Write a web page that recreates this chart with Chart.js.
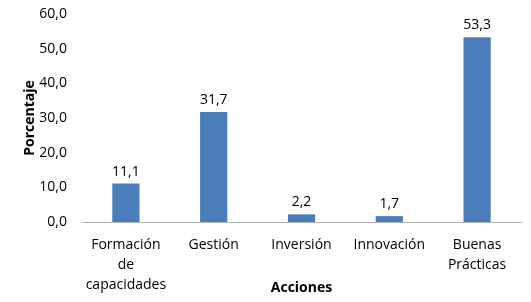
<!DOCTYPE html>
<html>
<head>
<meta charset="utf-8">
<script src="https://cdn.jsdelivr.net/npm/chart.js@4"></script>
<style>
  html, body { margin: 0; padding: 0; background: #fff; }
  #wrap { width: 531px; height: 302px; }
</style>
</head>
<body>
<div id="wrap"><canvas id="accionesChart"></canvas></div>
<script>
// datos
var categorias = [["Formación", "de", "capacidades"], "Gestión", "Inversión", "Innovación", ["Buenas", "Prácticas"]];
var porcentajes = [11.1, 31.7, 2.2, 1.7, 53.3];
var ticksY = [0, 10, 20, 30, 40, 50, 60];

var fmt = function (v) { return Number(v).toFixed(1).replace(".", ","); };
var fuente = "'Open Sans', sans-serif";

// etiquetas encima de cada barra
var etiquetas = {
  id: "etiquetas",
  afterDatasetsDraw: function (chart) {
    var ctx = chart.ctx;
    var meta = chart.getDatasetMeta(0);
    ctx.save();
    ctx.font = "14px " + fuente;
    ctx.fillStyle = "#000";
    ctx.textAlign = "center";
    ctx.textBaseline = "bottom";
    meta.data.forEach(function (bar, i) {
      ctx.fillText(fmt(porcentajes[i]), bar.x, bar.y - 5);
    });
    ctx.restore();
  }
};

var chart = new Chart(document.getElementById("accionesChart").getContext("2d"), {
  type: "bar",
  data: {
    labels: categorias,
    datasets: [{
      label: "Porcentaje",
      data: porcentajes,
      backgroundColor: "#4a7ebb",
      borderWidth: 0,
      barPercentage: 0.62,
      categoryPercentage: 0.5
    }]
  },
  options: {
    responsive: true,
    maintainAspectRatio: false,
    animation: false,
    layout: { padding: { left: 16, right: 10, top: 14, bottom: 6 } },
    plugins: {
      legend: { display: false },
      tooltip: { enabled: false }
    },
    scales: {
      x: {
        grid: { display: false, drawTicks: false },
        border: { display: true, color: "#b0b0b0", width: 1, dash: [1, 1] },
        ticks: {
          color: "#000",
          padding: 13,
          maxRotation: 0,
          autoSkip: false,
          font: { family: fuente, size: 14, lineHeight: "20px" }
        },
        title: {
          display: true,
          text: "Acciones",
          color: "#000",
          padding: { top: 1, bottom: 0 },
          font: { family: fuente, size: 14, weight: "bold" }
        },
        afterFit: function (s) { s.height = 74; s.paddingLeft = 0; s.paddingRight = 0; }
      },
      y: {
        min: 0,
        max: 60,
        grid: { display: false, drawTicks: false },
        border: { display: false },
        afterBuildTicks: function (s) { s.ticks = ticksY.map(function (v) { return { value: v }; }); },
        ticks: {
          color: "#000",
          padding: 15,
          font: { family: fuente, size: 14 },
          callback: function (v) { return fmt(v); }
        },
        title: {
          display: true,
          text: "Porcentaje",
          color: "#000",
          padding: { top: 6, bottom: 0 },
          font: { family: fuente, size: 14, weight: "bold" }
        },
        afterFit: function (s) { s.width = 66; s.paddingTop = 0; s.paddingBottom = 0; }
      }
    }
  },
  plugins: [etiquetas]
});
</script>
</body>
</html>
